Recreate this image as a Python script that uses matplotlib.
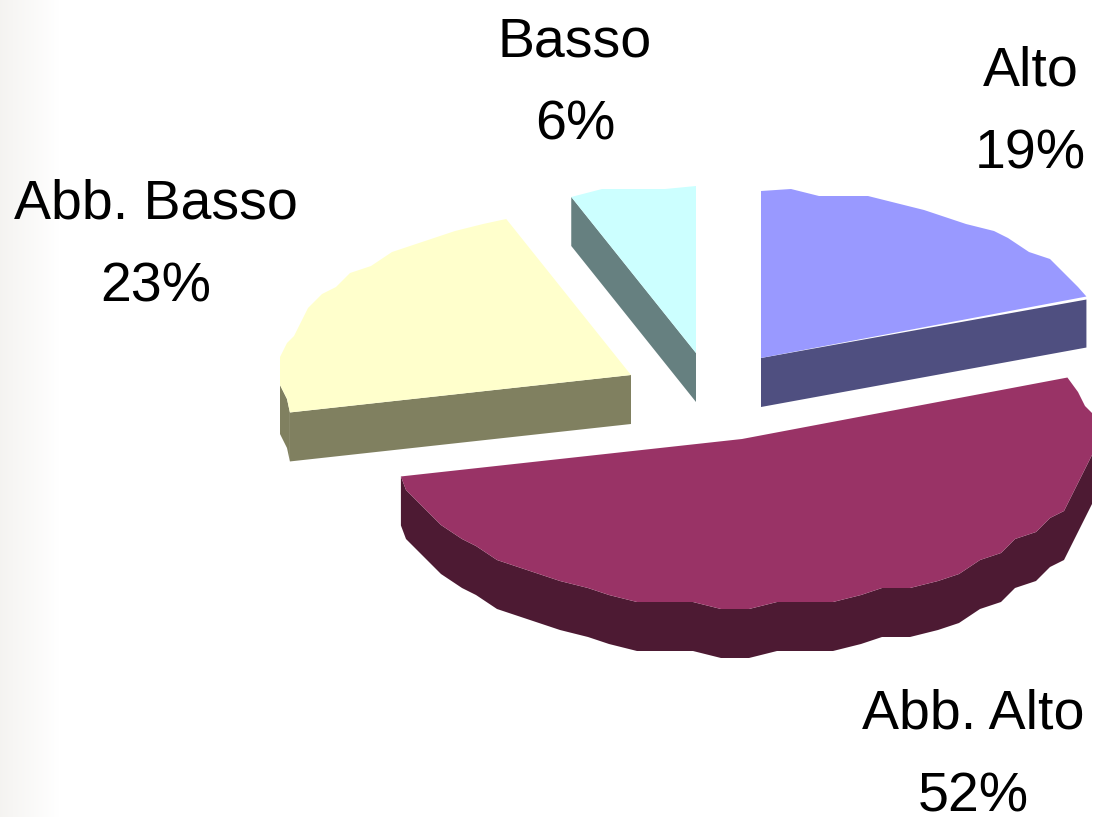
import numpy as np
import matplotlib.pyplot as plt
from matplotlib.patches import Polygon

labels = ["Alto", "Abb. Alto", "Abb. Basso", "Basso"]
values = [19.0, 52.4, 22.8, 5.8]
top_colors = ["#9999FF", "#993366", "#FFFFCC", "#CCFFFF"]
side_colors = ["#4F4F80", "#4D1A33", "#808060", "#668080"]

# exploded centre of each slice and label position, in pixels
centers = [(761, 358), (742, 439), (631, 375), (696, 353)]
label_xy = [(1086, 113), (1085, 756), (156, 246), (575, 84)]
label_ha = ["right", "right", "center", "center"]
rx, ry = 350, 167
depth = 49
step = 7  # the original outline is coarse and slightly bumpy

plt.rcParams['font.family'] = ['Liberation Sans', 'DejaVu Sans']

fig = plt.figure(figsize=(10.95, 8.17), dpi=100)
ax = fig.add_axes([0, 0, 1, 1])

# pale warm strip down the left edge
fade = np.linspace(0, 1, 60)[None, :, None]
strip = np.array([0.96, 0.955, 0.945])[None, None, :] * (1 - fade) + fade
ax.imshow(strip, extent=(0, 60, 817, 0), aspect='auto', zorder=0)
ax.set_xlim(0, 1095)
ax.set_ylim(817, 0)
ax.axis('off')


def rim(c, a0, a1):
    # angles clockwise from top, degrees; a vertex every 4.5 degrees or so
    n = max(int((a1 - a0) / 4.5), 2) + 1
    t = np.radians(np.linspace(a0, a1, n))
    x = c[0] + rx * np.sin(t)
    y = c[1] - ry * np.cos(t)
    # snap the inner points to a grid, keep the real end points
    x[1:-1] = np.round(x[1:-1] / step) * step
    y[1:-1] = np.round(y[1:-1] / step) * step
    return np.column_stack([x, y])


start = 0
for i, v in enumerate(values):
    a0 = start
    a1 = start + v * 3.6
    start = a1
    c = np.array(centers[i], dtype=float)
    down = np.array([0, depth])

    top = rim(c, a0, a1)

    # outer wall, only the front half of the ellipse shows
    angles = np.linspace(a0, a1, len(top))
    front = (angles >= 90) & (angles <= 270)
    if front.sum() > 1:
        r = top[front]
        ax.add_patch(Polygon(np.vstack([r, r[::-1] + down]), fc=side_colors[i], ec='none', zorder=2 + i))

    # cut faces
    t0, t1 = np.radians(a0), np.radians(a1)
    p0 = c + [rx * np.sin(t0), -ry * np.cos(t0)]
    p1 = c + [rx * np.sin(t1), -ry * np.cos(t1)]
    if i == 0:
        # thin white gap above this face, widening to the right
        ax.add_patch(Polygon([c, p1 + [0, 3], p1 + [0, 51], c + down], fc=side_colors[i], ec='none', zorder=2))
    elif i in (2, 3):
        ax.add_patch(Polygon([c, p0, p0 + down, c + down], fc=side_colors[i], ec='none', zorder=2 + i))

    ax.add_patch(Polygon(np.vstack([[c], top]), fc=top_colors[i], ec='none', zorder=8))

    ax.text(label_xy[i][0], label_xy[i][1], f"{labels[i]}\n{v:.0f}%", ha=label_ha[i], va='center',
            fontsize=40, linespacing=1.79, color='black', multialignment='center', zorder=9)

fig.savefig("out.png", dpi=100)
